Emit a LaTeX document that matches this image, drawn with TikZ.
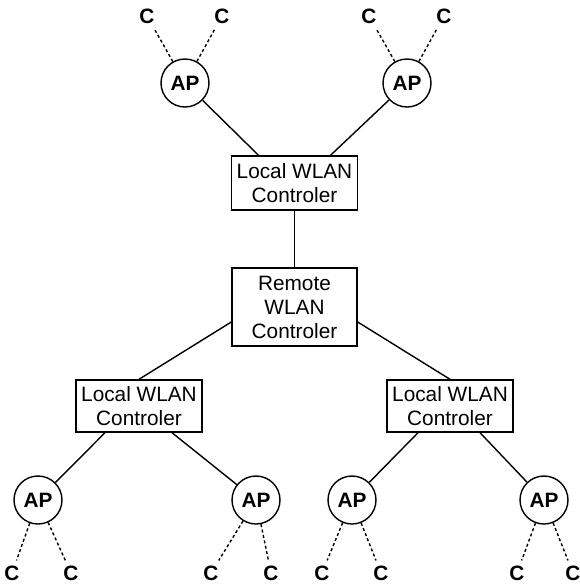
\documentclass[tikz,border=0pt]{standalone}
\usepackage{fontspec}
\setmainfont{Liberation Sans}
\usetikzlibrary{calc}
\begin{document}
\begin{tikzpicture}[x=1pt,y=-1pt,
  every node/.style={font=\fontsize{20.8}{24}\selectfont},
  ap/.style={circle,draw,line width=1.4pt,minimum size=48pt,inner sep=0pt,
    font=\bfseries\fontsize{20.8}{24}\selectfont},
  client/.style={inner sep=5pt,font=\bfseries\fontsize{20.8}{24}\selectfont},
  ctrl/.style={rectangle,draw,line width=1.4pt,align=center,inner sep=0pt,
    minimum width=126pt},
  link/.style={line width=1.4pt},
  radio/.style={line width=1.4pt,dash pattern=on 3pt off 2.5pt}]
\useasboundingbox (0,0) rectangle (580,587);

% controllers
\node[ctrl,minimum height=54pt] (ltop) at (294.5,183) {Local WLAN\\Controler};
\node[ctrl,minimum height=78pt,minimum width=125pt] (remote) at (294.5,307) {Remote\\WLAN\\Controler};
\node[ctrl,minimum height=52pt] (lbl) at (139,406) {Local WLAN\\Controler};
\node[ctrl,minimum height=52pt] (lbr) at (450,406) {Local WLAN\\Controler};

% access points
\node[ap] (ap1) at (185,83) {AP};
\node[ap] (ap2) at (407,83) {AP};
\node[ap] (ap3) at (38,500) {AP};
\node[ap] (ap4) at (256,500) {AP};
\node[ap] (ap5) at (352,500) {AP};
\node[ap] (ap6) at (544,500) {AP};

% clients
\node[client] (c1) at (147,16) {C};
\node[client] (c2) at (222,16) {C};
\node[client] (c3) at (369,16) {C};
\node[client] (c4) at (444,16) {C};
\node[client] (c5) at (12,573) {C};
\node[client] (c6) at (71,573) {C};
\node[client] (c7) at (211,573) {C};
\node[client] (c8) at (271,573) {C};
\node[client] (c9) at (322,573) {C};
\node[client] (c10) at (381,573) {C};
\node[client] (c11) at (517,573) {C};
\node[client] (c12) at (573,573) {C};

% wired links
\draw[link] (ap1) -- ($(ltop.north)+(-36,0)$);
\draw[link] (ap2) -- ($(ltop.north)+(36,0)$);
\draw[link] (ltop.south) -- (remote.north);
\draw[link] ($(remote.west)+(0,15)$) -- (lbl.north);
\draw[link] ($(remote.east)+(0,15)$) -- (lbr.north);
\draw[link] ($(lbl.south)+(-34,0)$) -- (ap3);
\draw[link] ($(lbl.south)+(33,0)$) -- (ap4);
\draw[link] ($(lbr.south)+(-32,0)$) -- (ap5);
\draw[link] ($(lbr.south)+(30,0)$) -- (ap6);

% wireless links
\foreach \a/\c in {ap1/c1,ap1/c2,ap2/c3,ap2/c4,ap3/c5,ap3/c6,ap4/c7,ap4/c8,
                   ap5/c9,ap5/c10,ap6/c11,ap6/c12}
  \draw[radio] (\a) -- (\c);
\end{tikzpicture}
\end{document}
